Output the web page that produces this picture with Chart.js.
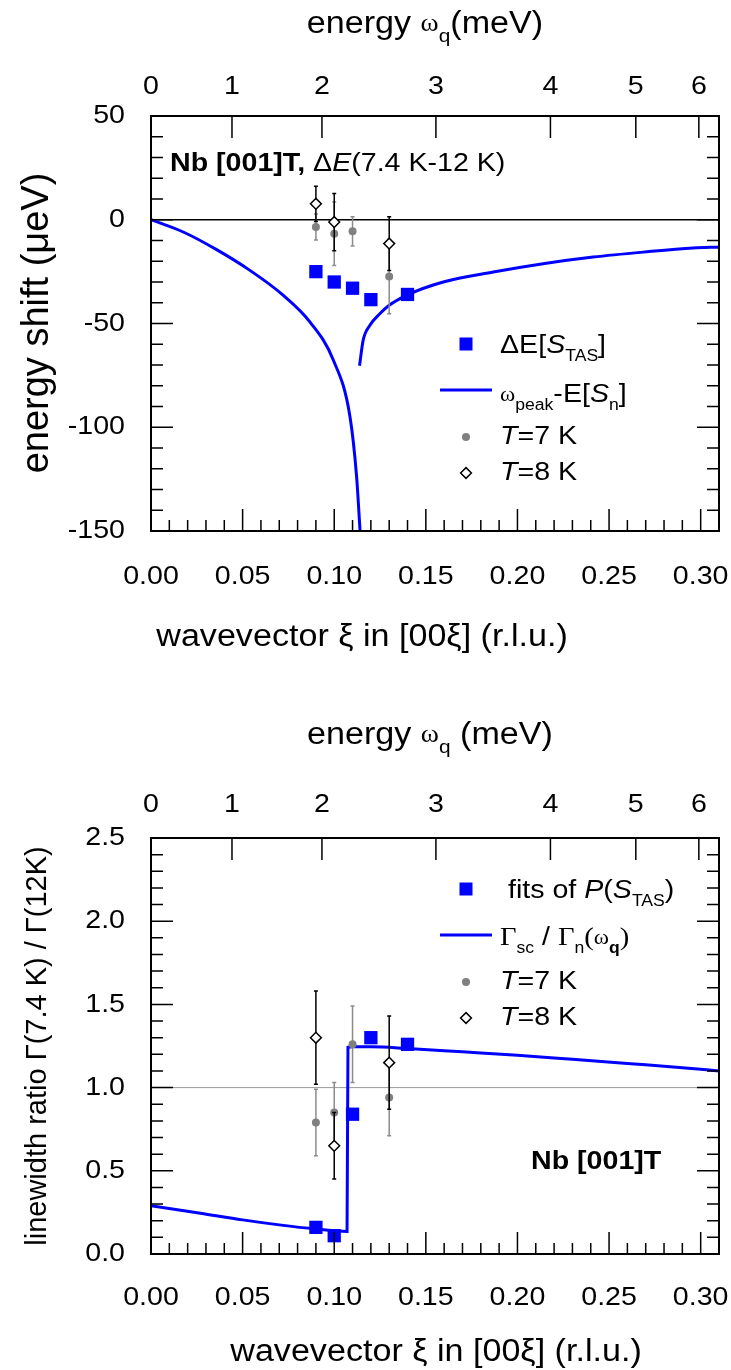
<!DOCTYPE html>
<html>
<head>
<meta charset="utf-8">
<script src="https://cdn.jsdelivr.net/npm/chart.js@4.4.1/dist/chart.umd.min.js"></script>
<style>
  html, body { margin: 0; padding: 0; background: #fff; }
  #wrap { position: relative; width: 731px; height: 1370px; }
  .panel { position: absolute; left: 0; width: 731px; height: 685px; }
</style>
</head>
<body>
<div id="wrap">
  <div class="panel" style="top:0"><canvas id="shiftChart"></canvas></div>
  <div class="panel" style="top:685px"><canvas id="ratioChart"></canvas></div>
</div>
<script>
const SANS = '"Liberation Sans", Arial, sans-serif';
const SERIF = '"Liberation Serif", "Times New Roman", serif';
const BLUE = 'rgb(0, 0, 255)';
const GREY = '#808080';
const SX = 1.1; // horizontal text is set slightly wide

// phonon energy (meV) along the top axis and the wavevector where it is reached
const energyLabels = [0, 1, 2, 3, 4, 5, 6];
const energyXi = [0, 0.0442, 0.0933, 0.1555, 0.218, 0.2646, 0.299];

// upper panel: energy shift in ueV
const xiTAS = [0.09, 0.10, 0.11, 0.12, 0.14];
const shiftTAS = [-25, -30, -33, -38.5, -36];
const xi7K = [0.09, 0.10, 0.11, 0.13];
const shift7K = [-3.5, -6.7, -5.6, -27.3];
const shift7KErr = [6.3, 15.3, 7.1, 18];
const xi8K = [0.09, 0.10, 0.13];
const shift8K = [7.7, -1.1, -11.5];
const shift8KErr = [8.5, 13.8, 13];
const peakXiLow = [0, 0.0176, 0.0358, 0.054, 0.0722, 0.0867, 0.0995, 0.1086, 0.1122, 0.1141];
const peakShiftLow = [0, -5.9, -14.4, -24.4, -36.4, -49.2, -67.6, -94.9, -123.7, -150];
const peakXiHigh = [0.1138, 0.1158, 0.1195, 0.125, 0.130, 0.1395, 0.1595, 0.1868, 0.214, 0.2413, 0.2686, 0.2959, 0.31];
const peakShiftHigh = [-70.4, -58, -50.8, -45.2, -41.2, -36.4, -30, -25.2, -21.2, -18, -15.6, -13.6, -13.2];

// lower panel: linewidth ratio
const ratioTAS = [0.16, 0.11, 0.84, 1.30, 1.26];
const ratio7K = [0.79, 0.85, 1.26, 0.94];
const ratio7KErr = [0.2, 0.18, 0.23, 0.23];
const ratio8K = [1.30, 0.65, 1.15];
const ratio8KErr = [0.28, 0.2, 0.28];
const gammaXi = [0, 0.027, 0.05, 0.07, 0.09, 0.107, 0.1075, 0.11, 0.12, 0.14, 0.17, 0.20, 0.23, 0.26, 0.29, 0.31];
const gammaRatio = [0.29, 0.245, 0.205, 0.175, 0.15, 0.135, 1.243, 1.245, 1.245, 1.235, 1.215, 1.195, 1.17, 1.145, 1.12, 1.10];

const pts = (xs, ys) => xs.map((x, i) => ({ x: x, y: ys[i] }));

// ---- rich text: runs of [text, style]; b bold, i italic, s subscript, g serif, w small serif
function runFont(st, size) {
  let s = size, fam = SANS;
  if (st.includes('s')) s = Math.round(size * 0.62);
  if (st.includes('g')) fam = SERIF;
  if (st.includes('w')) { s = Math.round(size * 0.8); fam = SERIF; }
  return (st.includes('i') ? 'italic ' : '') + (st.includes('b') ? 'bold ' : '') + s + 'px ' + fam;
}

function drawRich(ctx, runs, x, y, size, align, sx) {
  sx = sx || 1;
  ctx.textBaseline = 'middle';
  ctx.textAlign = 'left';
  ctx.fillStyle = '#000';
  const widths = runs.map(([t, st]) => { ctx.font = runFont(st, size); return ctx.measureText(t).width * sx; });
  const total = widths.reduce((a, b) => a + b, 0);
  let cx = x;
  if (align === 'center') cx = x - total / 2;
  if (align === 'right') cx = x - total;
  runs.forEach(([t, st], i) => {
    ctx.font = runFont(st, size);
    ctx.save();
    ctx.translate(cx, y + (st.includes('s') ? size * 0.4 : 0));
    ctx.scale(sx, 1);
    ctx.fillText(t, 0, 0);
    ctx.restore();
    cx += widths[i];
  });
}

// ---- plugins
const refLinePlugin = {
  id: 'refLine',
  beforeDatasetsDraw(chart, args, opts) {
    const { ctx, chartArea: a } = chart;
    const py = chart.scales.y.getPixelForValue(opts.value);
    ctx.save();
    ctx.strokeStyle = opts.color;
    ctx.lineWidth = opts.width;
    ctx.beginPath();
    ctx.moveTo(a.left, py);
    ctx.lineTo(a.right, py);
    ctx.stroke();
    ctx.restore();
  }
};

const errorBarPlugin = {
  id: 'errorBars',
  beforeDatasetDraw(chart, args) {
    const ds = chart.data.datasets[args.index];
    if (!ds.errors) return;
    const { ctx, chartArea: a } = chart;
    const y = chart.scales.y;
    ctx.save();
    ctx.beginPath();
    ctx.rect(a.left, a.top, a.right - a.left, a.bottom - a.top);
    ctx.clip();
    ctx.strokeStyle = ds.errorColor;
    ctx.lineWidth = 1.5;
    args.meta.data.forEach((pt, i) => {
      const d = ds.data[i];
      const y0 = y.getPixelForValue(d.y - ds.errors[i]);
      const y1 = y.getPixelForValue(d.y + ds.errors[i]);
      ctx.beginPath();
      ctx.moveTo(pt.x, y0); ctx.lineTo(pt.x, y1);
      ctx.moveTo(pt.x - 2, y0); ctx.lineTo(pt.x + 2, y0);
      ctx.moveTo(pt.x - 2, y1); ctx.lineTo(pt.x + 2, y1);
      ctx.stroke();
    });
    ctx.restore();
  }
};

// box with inward tick marks on all four sides, plus the tick labels
const framePlugin = {
  id: 'frame',
  afterDatasetsDraw(chart, args, opts) {
    const { ctx, chartArea: a, scales } = chart;
    const x = scales.x, y = scales.y, top = scales.x2;
    ctx.save();
    ctx.strokeStyle = '#000';
    ctx.lineWidth = 1.5;
    ctx.beginPath();
    const nx = Math.round((x.max - x.min) / opts.xMinor);
    for (let i = 0; i <= nx; i++) {
      const px = x.getPixelForValue(x.min + i * opts.xMinor);
      const len = i % opts.perMajor === 0 ? 22 : 11;
      ctx.moveTo(px, a.bottom); ctx.lineTo(px, a.bottom - len);
    }
    const ny = Math.round((y.max - y.min) / opts.yMinor);
    for (let i = 0; i <= ny; i++) {
      const py = y.getPixelForValue(y.min + i * opts.yMinor);
      const len = i % opts.perMajor === 0 ? 22 : 12;
      ctx.moveTo(a.left, py); ctx.lineTo(a.left + len, py);
      ctx.moveTo(a.right, py); ctx.lineTo(a.right - len, py);
    }
    top.ticks.forEach(t => {
      const px = top.getPixelForValue(t.value);
      ctx.moveTo(px, a.top); ctx.lineTo(px, a.top + 22);
    });
    ctx.stroke();
    ctx.lineWidth = 2;
    ctx.strokeRect(a.left, a.top, a.right - a.left, a.bottom - a.top);

    x.ticks.forEach(t => drawRich(ctx, [[t.label, '']], x.getPixelForValue(t.value), a.bottom + opts.bottomGap, 26, 'center', SX));
    top.ticks.forEach(t => drawRich(ctx, [[t.label, '']], top.getPixelForValue(t.value), a.top - opts.topGap, 26, 'center', SX));
    y.ticks.forEach(t => drawRich(ctx, [[t.label, '']], a.left - 26, y.getPixelForValue(t.value), 26, 'right', SX));
    ctx.restore();
  }
};

function drawMarker(ctx, kind, x, y) {
  ctx.save();
  ctx.beginPath();
  if (kind === 'square') {
    ctx.fillStyle = BLUE;
    ctx.fillRect(x - 6.5, y - 6.5, 13, 13);
  } else if (kind === 'line') {
    ctx.strokeStyle = BLUE; ctx.lineWidth = 3;
    ctx.moveTo(x - 26, y); ctx.lineTo(x + 26, y); ctx.stroke();
  } else if (kind === 'dot') {
    ctx.fillStyle = GREY;
    ctx.arc(x, y, 4, 0, Math.PI * 2); ctx.fill();
  } else {
    ctx.fillStyle = '#fff'; ctx.strokeStyle = '#000'; ctx.lineWidth = 1.5;
    ctx.moveTo(x, y - 5.4); ctx.lineTo(x + 5.4, y); ctx.lineTo(x, y + 5.4); ctx.lineTo(x - 5.4, y); ctx.closePath();
    ctx.fill(); ctx.stroke();
  }
  ctx.restore();
}

// titles, legend and panel label
const labelPlugin = {
  id: 'labels',
  afterDraw(chart, args, opts) {
    const ctx = chart.ctx;
    ctx.save();
    opts.texts.forEach(t => {
      if (t.rotate) {
        ctx.save();
        ctx.translate(t.x, t.y);
        ctx.rotate(-Math.PI / 2);
        drawRich(ctx, t.runs, 0, 0, t.size, 'center');
        ctx.restore();
      } else {
        drawRich(ctx, t.runs, t.x, t.y, t.size, t.align, SX);
      }
    });
    opts.legend.forEach(row => {
      drawMarker(ctx, row.marker, opts.legendX, row.y);
      drawRich(ctx, row.runs, opts.legendX + 34, row.y + (row.dy || 0), 26, 'left', SX);
    });
    ctx.restore();
  }
};

function fixSize(prop, val) {
  return s => {
    s[prop] = val;
    s.paddingLeft = 0; s.paddingRight = 0; s.paddingTop = 0; s.paddingBottom = 0;
  };
}

function panelScales(yMin, yMax, yStep, yDigits, topH, bottomH) {
  const hidden = { display: false, drawTicks: false };
  return {
    x: {
      type: 'linear', position: 'bottom', min: 0, max: 0.31,
      grid: hidden, border: { display: false },
      ticks: { display: false, stepSize: 0.05, includeBounds: false, autoSkip: false, callback: v => v.toFixed(2) },
      afterFit: fixSize('height', bottomH)
    },
    x2: {
      type: 'linear', position: 'top', min: 0, max: 0.31,
      grid: hidden, border: { display: false },
      afterBuildTicks: s => { s.ticks = energyXi.map(v => ({ value: v })); },
      ticks: { display: false, autoSkip: false, callback: (v, i) => String(energyLabels[i]) },
      afterFit: fixSize('height', topH)
    },
    y: {
      type: 'linear', position: 'left', min: yMin, max: yMax,
      grid: hidden, border: { display: false },
      ticks: { display: false, stepSize: yStep, callback: v => v.toFixed(yDigits) },
      afterFit: fixSize('width', 151)
    }
  };
}

function pointSets(xTAS, yTAS, x7, y7, e7, x8, y8, e8) {
  return [
    { label: 'TAS', data: pts(xTAS, yTAS), pointStyle: 'rect', pointRadius: 9.4,
      backgroundColor: BLUE, borderWidth: 0, showLine: false },
    { label: 'T=8 K', data: pts(x8, y8), errors: e8, errorColor: '#000', pointStyle: 'rectRot',
      pointRadius: 5.4, backgroundColor: '#fff', borderColor: '#000', borderWidth: 1.5, showLine: false },
    { label: 'T=7 K', data: pts(x7, y7), errors: e7, errorColor: '#8c8c8c', pointStyle: 'circle',
      pointRadius: 4, backgroundColor: GREY, borderWidth: 0, showLine: false }
  ];
}

const lineStyle = { showLine: true, pointRadius: 0, borderColor: BLUE, borderWidth: 3,
  cubicInterpolationMode: 'monotone', fill: false };

new Chart(document.getElementById('shiftChart'), {
  type: 'scatter',
  data: {
    datasets: pointSets(xiTAS, shiftTAS, xi7K, shift7K, shift7KErr, xi8K, shift8K, shift8KErr).concat([
      Object.assign({ label: 'peak low', data: pts(peakXiLow, peakShiftLow) }, lineStyle),
      Object.assign({ label: 'peak high', data: pts(peakXiHigh, peakShiftHigh) }, lineStyle)
    ])
  },
  options: {
    responsive: true, maintainAspectRatio: false, animation: false, devicePixelRatio: 1,
    layout: { padding: { left: 0, right: 12, top: 0, bottom: 0 } },
    scales: panelScales(-150, 50, 50, 0, 116, 154),
    plugins: {
      legend: { display: false }, tooltip: { enabled: false },
      refLine: { value: 0, color: '#000', width: 1.5 },
      frame: { xMinor: 0.01, yMinor: 10, perMajor: 5, topGap: 29, bottomGap: 46 },
      labels: {
        texts: [
          { runs: [['energy ', ''], ['ω', 'w'], ['q', 's'], ['(meV)', '']], x: 425, y: 24, size: 31, align: 'center' },
          { runs: [['wavevector ξ in [00ξ] (r.l.u.)', '']], x: 362, y: 637, size: 31, align: 'center' },
          { runs: [['energy shift (μeV)', '']], x: 38, y: 323, size: 38, rotate: true },
          { runs: [['Nb [001]T,', 'b'], [' Δ', ''], ['E', 'i'], ['(7.4 K-12 K)', '']], x: 170, y: 164, size: 26, align: 'left' }
        ],
        legendX: 466,
        legend: [
          { marker: 'square', y: 344, dy: 2, runs: [['ΔE[', ''], ['S', 'i'], ['TAS', 's'], [']', '']] },
          { marker: 'line', y: 390, dy: 5, runs: [['ω', 'w'], ['peak', 's'], ['-E[', ''], ['S', 'i'], ['n', 's'], [']', '']] },
          { marker: 'dot', y: 437, runs: [['T', 'i'], ['=7 K', '']] },
          { marker: 'diamond', y: 473, runs: [['T', 'i'], ['=8 K', '']] }
        ]
      }
    }
  },
  plugins: [refLinePlugin, errorBarPlugin, framePlugin, labelPlugin]
});

new Chart(document.getElementById('ratioChart'), {
  type: 'scatter',
  data: {
    datasets: pointSets(xiTAS, ratioTAS, xi7K, ratio7K, ratio7KErr, xi8K, ratio8K, ratio8KErr).concat([
      Object.assign({ label: 'gamma ratio', data: pts(gammaXi, gammaRatio) }, lineStyle)
    ])
  },
  options: {
    responsive: true, maintainAspectRatio: false, animation: false, devicePixelRatio: 1,
    layout: { padding: { left: 0, right: 12, top: 0, bottom: 0 } },
    scales: panelScales(0, 2.5, 0.5, 1, 153, 116),
    plugins: {
      legend: { display: false }, tooltip: { enabled: false },
      refLine: { value: 1, color: '#999', width: 1 },
      frame: { xMinor: 0.01, yMinor: 0.1, perMajor: 5, topGap: 33, bottomGap: 44 },
      labels: {
        texts: [
          { runs: [['energy ', ''], ['ω', 'w'], ['q', 's'], [' (meV)', '']], x: 430, y: 50, size: 31, align: 'center' },
          { runs: [['wavevector ξ in [00ξ] (r.l.u.)', '']], x: 436, y: 667, size: 31, align: 'center' },
          { runs: [['linewidth ratio Γ(7.4 K) / Γ(12K)', '']], x: 38, y: 361, size: 29, rotate: true },
          { runs: [['Nb [001]T', 'b']], x: 531, y: 477, size: 26, align: 'left' }
        ],
        legendX: 466,
        legend: [
          { marker: 'square', y: 204, dy: 2, runs: [[' fits of ', ''], ['P', 'i'], ['(', ''], ['S', 'i'], ['TAS', 's'], [')', '']] },
          { marker: 'line', y: 250, dy: 3, runs: [['Γ', 'g'], ['sc', 's'], [' / ', ''], ['Γ', 'g'], ['n', 's'], ['(', 'g'], ['ω', 'w'], ['q', 'sb'], [')', 'g']] },
          { marker: 'dot', y: 297, runs: [['T', 'i'], ['=7 K', '']] },
          { marker: 'diamond', y: 333, runs: [['T', 'i'], ['=8 K', '']] }
        ]
      }
    }
  },
  plugins: [refLinePlugin, errorBarPlugin, framePlugin, labelPlugin]
});
</script>
</body>
</html>
